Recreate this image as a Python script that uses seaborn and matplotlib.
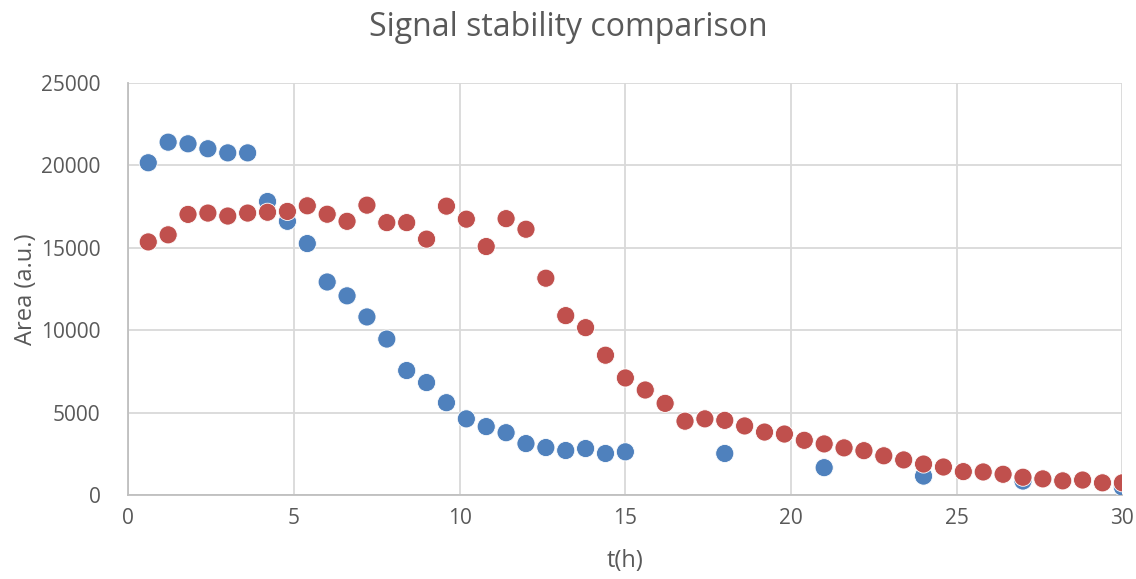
import numpy as np
import pandas as pd
import matplotlib
matplotlib.use('Agg')
import matplotlib.pyplot as plt
import seaborn as sns

# blue series: every 0.6 h up to 15 h, then every 3 h
t_blue = [0.6, 1.2, 1.8, 2.4, 3.0, 3.6, 4.2, 4.8, 5.4, 6.0, 6.6, 7.2, 7.8, 8.4, 9.0,
          9.6, 10.2, 10.8, 11.4, 12.0, 12.6, 13.2, 13.8, 14.4, 15.0, 18, 21, 24, 27, 30]
area_blue = [20150, 21400, 21300, 21000, 20750, 20750, 17800, 16600, 15250, 12920,
             12080, 10800, 9460, 7550, 6820, 5600, 4620, 4150, 3780, 3120,
             2880, 2700, 2820, 2520, 2620, 2520, 1660, 1150, 850, 480]

# red series: every 0.6 h up to 30 h
t_red = [0.6, 1.2, 1.8, 2.4, 3.0, 3.6, 4.2, 4.8, 5.4, 6.0, 6.6, 7.2, 7.8, 8.4, 9.0,
         9.6, 10.2, 10.8, 11.4, 12.0, 12.6, 13.2, 13.8, 14.4, 15.0, 15.6, 16.2, 16.8,
         17.4, 18.0, 18.6, 19.2, 19.8, 20.4, 21.0, 21.6, 22.2, 22.8, 23.4, 24.0, 24.6,
         25.2, 25.8, 26.4, 27.0, 27.6, 28.2, 28.8, 29.4, 30.0]
area_red = [15350, 15780, 17020, 17100, 16920, 17100, 17150, 17200, 17540, 17030,
            16600, 17580, 16520, 16520, 15520, 17520, 16730, 15070, 16760, 16120,
            13150, 10880, 10150, 8480, 7100, 6370, 5560, 4480, 4620, 4530,
            4190, 3820, 3700, 3320, 3100, 2860, 2690, 2380, 2130, 1880,
            1700, 1420, 1400, 1260, 1080, 980, 860, 910, 740, 740]

df = pd.concat([
    pd.DataFrame({'t': t_blue, 'area': area_blue, 'series': 'blue'}),
    pd.DataFrame({'t': t_red, 'area': area_red, 'series': 'red'}),
])

sns.set_style('white')
plt.rcParams['font.family'] = ['Open Sans', 'DejaVu Sans']

fig, ax = plt.subplots(figsize=(11.36, 5.79), dpi=100)
fig.subplots_adjust(left=0.113, right=0.988, top=0.857, bottom=0.145)

sns.scatterplot(data=df, x='t', y='area', hue='series',
                palette={'blue': '#4F81BD', 'red': '#C0504D'},
                s=170, edgecolor='white', linewidth=0.6, legend=False, ax=ax, zorder=3)

ax.set_xlim(0, 30)
ax.set_ylim(0, 25000)
ax.set_xticks(np.arange(0, 31, 5))
ax.set_yticks(np.arange(0, 25001, 5000))
ax.grid(True, color='#d9d9d9', linewidth=1.3)
ax.set_axisbelow(True)
for side in ['top', 'right']:
    ax.spines[side].set_visible(False)
for side in ['left', 'bottom']:
    ax.spines[side].set_color('#bfbfbf')
    ax.spines[side].set_linewidth(1.3)
ax.tick_params(axis='both', length=0, labelsize=15, labelcolor='#595959')
ax.tick_params(axis='y', pad=20)
ax.tick_params(axis='x', pad=9)

ax.set_xlabel('t(h)', fontsize=17, color='#595959', labelpad=15)
ax.set_ylabel('Area (a.u.)', fontsize=17, color='#595959', labelpad=2)
fig.text(0.5, 0.952, 'Signal stability comparison', fontsize=23, color='#595959',
         ha='center', va='center')

fig.savefig('out.png', dpi=100)
